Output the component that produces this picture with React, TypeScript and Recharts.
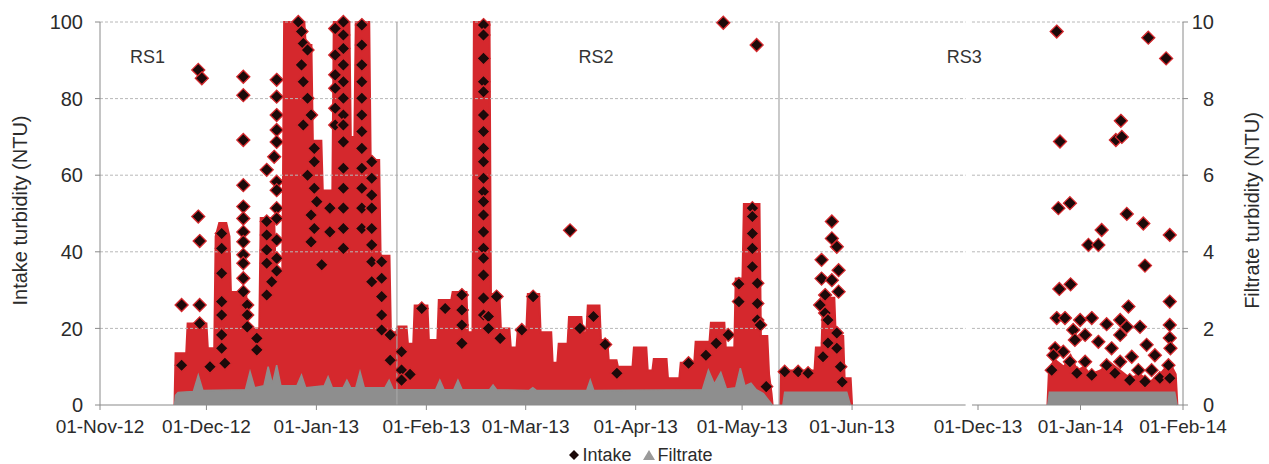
import { ComposedChart, Area, Scatter, XAxis, YAxis, ReferenceLine, ReferenceDot } from 'recharts';

if (typeof document !== 'undefined') document.body.style.margin = '0';

// x positions are days since 01-Nov-12; the second block (after the axis break) is days since 01-Dec-13
const SEG2_START = 247.5;
const SEG2_RATE = 0.932;
const seg2 = (d: number) => SEG2_START + d * SEG2_RATE;
const X_MAX = seg2(62);

const tickDays = [0, 30, 61, 92, 120, 151, 181, 212];
const tickDays2 = [0, 31, 62];
const xTickLabels = [
  '01-Nov-12', '01-Dec-12', '01-Jan-13', '01-Feb-13', '01-Mar-13', '01-Apr-13', '01-May-13', '01-Jun-13',
  '01-Dec-13', '01-Jan-14', '01-Feb-14',
];
const intakeTicks = [0, 20, 40, 60, 80, 100];
const filtrateTicks = [0, 2, 4, 6, 8, 10];

const rsBoundaries = [83.7, 191.4];
const rsLabels = [
  { name: 'RS1', x: 13.4 },
  { name: 'RS2', x: 139.8 },
  { name: 'RS3', x: 243.6 },
];

// upper edge of the dense intake cloud (day, NTU)
const intakeCloudRS12 = [
  [21.0, 0], [21.3, 13.5], [24.3, 13.5], [24.7, 21.3], [30.0, 21.3], [30.4, 14.8], [32.2, 14.8],
  [32.6, 44], [33.6, 47.5], [35.6, 47.5], [36.5, 44], [36.9, 29.5], [41.2, 29.5], [41.6, 20], [44.9, 20],
  [45.3, 48.8], [49.1, 48.8], [49.5, 35], [51.4, 35], [51.9, 100], [57.6, 100], [58.0, 94], [59.6, 94],
  [60.0, 69], [62.4, 69], [62.8, 56], [65.5, 56], [65.9, 100], [70.3, 100], [70.7, 70], [71.7, 70],
  [72.1, 100], [75.9, 100], [76.3, 64], [78.7, 64], [79.1, 39], [81.6, 39], [82.0, 19], [83.5, 19],
  [83.9, 20.5], [86.4, 20.5], [86.8, 16], [88.3, 16], [88.7, 26], [92.3, 26], [92.7, 17], [95.1, 17],
  [95.5, 27.4], [99.0, 27.4], [99.4, 29.5], [103.3, 29.5], [103.7, 19], [105.0, 19], [105.4, 100],
  [109.8, 100], [110.2, 29], [112.6, 29], [113.0, 20], [115.4, 20], [115.8, 15], [117.4, 15], [117.8, 20],
  [120.2, 20], [120.6, 29], [123.8, 29], [124.2, 19], [127.2, 19], [127.6, 11], [128.9, 11], [129.3, 16],
  [131.8, 16], [132.2, 23], [135.7, 23], [136.1, 19], [137.1, 19], [137.5, 26], [140.8, 26], [141.2, 17],
  [143.0, 17], [143.4, 11.7], [145.6, 11.7], [146.0, 10], [150.1, 10], [150.5, 15], [154.0, 15],
  [154.4, 9], [155.7, 9], [156.1, 12], [159.7, 12], [160.1, 7], [163.3, 7], [163.7, 11], [167.5, 11],
  [167.9, 16.5], [171.8, 16.5], [172.2, 21.5], [176.0, 21.5], [176.4, 15], [178.8, 15], [179.2, 33],
  [181.1, 33], [181.5, 52.5], [185.9, 52.5], [186.3, 18], [188.1, 18], [188.6, 8], [189.3, 3], [189.6, 0],
];
const intakeCloudRS3a = [
  [191.7, 0], [192.0, 9], [201.4, 9], [201.8, 15], [203.4, 15], [203.8, 28], [207.0, 28], [207.4, 18],
  [209.5, 18], [209.9, 7], [211.6, 7], [212.0, 0],
];
const intakeCloudRS3b = [
  [21.0, 0], [21.4, 8], [23, 12], [26, 10], [28, 13], [30, 9], [32, 10], [34, 8], [37, 9], [40, 11],
  [43, 9], [46, 7], [49, 8], [52, 6], [55, 8], [58, 11], [59.8, 8], [60.3, 0],
];

// individual intake readings that stand out (day, [NTU...])
const intakePointsRS12: [number, number[]][] = [
  [23.0, [26.1, 10.4]], [27.7, [87.5, 49.2]], [28.7, [85.3]], [28.1, [42.8, 26.1, 21.3]], [31.0, [10]],
  [34.3, [44.8, 40.9, 34.4, 27, 23.5, 18.3, 14.8]], [35.2, [10.9]],
  [40.4, [85.7, 80.9, 69.2, 57.4, 51.8, 48.7, 45.2, 42.6, 39.2, 37, 33.1, 29.6]],
  [41.5, [26.1, 23.5, 20.4]], [44.2, [17.4, 14.4]], [47.0, [61.4, 47.9, 44.4, 40.5, 37, 28.7]],
  [48.4, [32.2]], [49.1, [64.8]],
  [49.8, [84.9, 80.5, 75.7, 71.8, 68.7, 58.3, 56.1, 51.4, 48.7, 43.1, 38.3, 35]],
  [55.9, [100]], [56.8, [97.5, 88.8]], [57.3, [94.4, 84.4, 73.1]], [58.5, [92.7, 80.1, 60]],
  [59.5, [75.7, 49.6, 42.6]], [60.4, [67, 63.5, 56.6, 46.1]], [61.1, [53.1]], [62.5, [36.6]],
  [64.8, [51.4, 45.2]], [66.3, [98.3, 91.4, 86.2, 82.7, 77.5, 73.1]],
  [68.6, [100, 96.6, 93.1, 88.8, 84.4, 80.1, 75.7, 73.1, 68.7, 61.8, 56.6, 51.4, 46.1, 40.9]],
  [73.8, [99.2, 94, 88.8, 84.4, 80.1, 75.7, 71.4, 67, 61.8, 56.6, 51.4, 46.1]],
  [76.6, [63.5, 59.2, 54.8, 51.4, 46.1, 41.8, 37.4, 32.2]], [79.4, [37.4, 33.1, 28.3, 23.5, 19.6]],
  [81.8, [18.3, 11.7]], [85.0, [13.9, 9.1, 6.5]], [87.4, [8]], [90.7, [25.2]], [97.3, [25.2]],
  [102.0, [28.7, 24.8, 20.9, 16.1]],
  [108.1, [99.2, 96.6, 90.5, 84.4, 81.8, 75.7, 71.4, 67, 63.5, 59.2, 55.7, 53.1, 49.6, 45.2, 40.9, 38.3, 33.9, 27.9, 23.5]],
  [109.5, [23.1, 20]], [111.8, [28.3]], [112.8, [17.4]], [118.9, [19.6]], [122.1, [28.3]], [132.5, [45.6]],
  [135.3, [20]], [139.1, [23.1]], [142.4, [15.8]], [145.7, [8.3]], [165.9, [10.9]], [170.8, [13]],
  [173.7, [16.1]], [175.7, [99.8]], [177.1, [18.3]], [180.1, [31.6, 27]], [183.9, [51.4, 49.2, 44.8, 40.9, 36.1]],
  [185.1, [94]], [185.3, [31.8, 26.5, 22.2]], [186.1, [20.9]], [187.8, [4.8]],
  [193.0, [8.7]], [196.8, [8.7]], [199.6, [8.3]], [203.0, [26.1]], [203.4, [37.9, 33]], [203.8, [12.6]],
  [204.4, [28.7, 24]], [205.2, [22.2, 16.2]], [206.3, [47.9, 43.5, 32.6]], [207.7, [41.3, 18.8, 14.8]],
  [208.2, [35.2, 29.6]], [208.7, [10]], [209.2, [6]],
];
// days since 01-Dec-13
const intakePointsRS3b = [
  [23.8, 97.5], [51.5, 95.9], [56.9, 90.5], [43.2, 74.2], [41.7, 69.2], [43.5, 70], [24.8, 68.8],
  [24.3, 51.4], [27.8, 52.7], [45, 49.9], [50, 47.4], [58, 44.4], [37.4, 45.7], [33.4, 41.8], [36.4, 41.8],
  [50.5, 36.4], [24.6, 30.3], [28, 31.5], [58, 27], [45.5, 25.7], [23.8, 22.7], [26.3, 22.7], [30.9, 22.2],
  [34.4, 22.7], [38.9, 21.1], [43, 22.2], [45, 20.4], [49, 20.4], [58, 20.9], [28.8, 19.6], [32.4, 18.3],
  [43, 18.3], [58, 17.5], [29.3, 17], [36.4, 16.5], [51, 15.7], [23.3, 14.8], [40.4, 14.8], [46.5, 12.6],
  [53.5, 13], [58.2, 14.8], [25.8, 13.9], [32.4, 11.3], [38.9, 10.4], [43, 11.3], [27.8, 11.3], [57.6, 10.4],
  [22.8, 13], [34.4, 7.8], [48.5, 9.1], [52.5, 9.1], [55, 7], [22.3, 9.1], [29.9, 8.3], [41.4, 8.3],
  [45.9, 6.5], [50.5, 6.1], [58, 7],
];

// filtrate cloud upper edge (day, NTU)
const filtrateRS12 = [
  [21.0, 0], [21.3, 0.25], [22, 0.33], [26.3, 0.35], [27.7, 0.78], [29.0, 0.38], [41, 0.4], [42.3, 0.87],
  [43.6, 0.45], [46.2, 0.5], [47.4, 1.0], [48.6, 0.55], [49.8, 1.04], [51, 0.5], [55.5, 0.5], [56.8, 0.78],
  [58.0, 0.45], [63.2, 0.5], [64.3, 0.74], [65.5, 0.45], [68.5, 0.45], [69.6, 0.65], [70.7, 0.45],
  [72.1, 0.45], [73.3, 0.87], [74.5, 0.45], [80.3, 0.45], [81.5, 0.65], [82.7, 0.4], [94.6, 0.4],
  [95.8, 0.65], [97, 0.4], [99.7, 0.4], [100.9, 0.65], [102.1, 0.4], [109.8, 0.4], [110.8, 0.52],
  [111.8, 0.4], [121, 0.38], [122, 0.45], [123, 0.38], [137.2, 0.38], [138.2, 0.65], [139.2, 0.38],
  [169.8, 0.4], [171.5, 0.91], [173.2, 0.55], [175, 0.85], [176.6, 0.42], [179.2, 0.45], [180.5, 0.96],
  [181.8, 0.5], [183.5, 0.57], [185, 0.4], [187, 0.3], [189.5, 0],
];
const filtrateRS3a = [[192.5, 0], [193, 0.33], [210.5, 0.33], [211.5, 0]];
const filtrateRS3b = [[21.1, 0], [21.6, 0.33], [59.5, 0.33], [60.2, 0]];

const RED = '#d5282d';
const GREY = '#8e8e8e';
const AXIS = '#8a8a8a';
const TEXT = '#2b2b2b';

const cloud = (rows: number[][], toX = (d: number) => d) => rows.map(([d, v]) => ({ x: toX(d), v }));
const intakeScatter = [
  ...intakePointsRS12.flatMap(([d, vals]) => vals.map((v) => ({ x: d, v }))),
  ...intakePointsRS3b.map(([d, v]) => ({ x: seg2(d), v })),
];
const xTicks = [...tickDays, ...tickDays2.map(seg2)];
const BREAK = [244.0, 245.8];

const Diamond = (props: any) => {
  const { cx, cy } = props;
  if (cx == null || cy == null) return null;
  const s = 6.5;
  return (
    <path
      d={`M${cx},${cy - s}L${cx + s},${cy}L${cx},${cy + s}L${cx - s},${cy}Z`}
      fill="#1c0a0a"
      stroke={RED}
      strokeWidth={1.3}
    />
  );
};

const RightTick = (props: any) => {
  const { x, y, payload } = props;
  return (
    <text x={x + 24} y={y} dy="0.355em" textAnchor="end" fontSize={20} fill={TEXT}>
      {payload.value}
    </text>
  );
};

const AxisTitle = ({ viewBox, title, posX }: any) => {
  const cy = viewBox.y + viewBox.height / 2 - 3;
  return (
    <text x={posX} y={cy} transform={`rotate(-90, ${posX}, ${cy})`} textAnchor="middle" dominantBaseline="central" fontSize={20} fill={TEXT}>
      {title}
    </text>
  );
};

export default function App() {
  return (
    <div style={{ position: 'relative', width: 1269, height: 464, fontFamily: '"Liberation Sans", Arial, sans-serif', background: '#fff' }}>
      <ComposedChart width={1269} height={464} margin={{ top: 22, right: 0, bottom: 19, left: 0 }}>
        <XAxis
          type="number"
          dataKey="x"
          domain={[0, X_MAX]}
          allowDataOverflow
          ticks={xTicks}
          interval={0}
          tickFormatter={(_v: number, i: number) => xTickLabels[i]}
          axisLine={false}
          tickLine={{ stroke: AXIS }}
          tickSize={5}
          tickMargin={10}
          height={40}
          tick={{ fontSize: 19, fill: TEXT }}
        />
        <YAxis
          yAxisId="left"
          dataKey="v"
          domain={[0, 100]}
          ticks={intakeTicks}
          width={100}
          axisLine={{ stroke: AXIS }}
          tickLine={{ stroke: AXIS }}
          tickSize={5}
          tickMargin={12}
          tick={{ fontSize: 20, fill: TEXT }}
          label={<AxisTitle title="Intake turbidity (NTU)" posX={20} />}
        />
        <YAxis
          yAxisId="right"
          orientation="right"
          domain={[0, 10]}
          ticks={filtrateTicks}
          width={86}
          axisLine={{ stroke: AXIS }}
          tickLine={{ stroke: AXIS }}
          tickSize={5}
          tickMargin={2}
          tick={<RightTick />}
          label={<AxisTitle title="Filtrate turbidity (NTU)" posX={1252} />}
        />

        {intakeTicks.slice(1).map((t) => (
          <ReferenceLine key={`g1-${t}`} yAxisId="left" segment={[{ x: 0, y: t }, { x: BREAK[0], y: t }]} stroke="#b8b8b8" strokeDasharray="3 2" />
        ))}
        {intakeTicks.slice(1).map((t) => (
          <ReferenceLine key={`g2-${t}`} yAxisId="left" segment={[{ x: BREAK[1], y: t }, { x: X_MAX, y: t }]} stroke="#b8b8b8" strokeDasharray="3 2" />
        ))}
        {rsBoundaries.map((b) => (
          <ReferenceLine key={`rs-${b}`} yAxisId="left" x={b} stroke="#a6a6a6" strokeWidth={1.2} />
        ))}

        <Area data={cloud(intakeCloudRS12)} dataKey="v" yAxisId="left" type="linear" fill={RED} fillOpacity={1} stroke={RED} strokeWidth={2} dot={false} activeDot={false} isAnimationActive={false} />
        <Area data={cloud(intakeCloudRS3a)} dataKey="v" yAxisId="left" type="linear" fill={RED} fillOpacity={1} stroke={RED} strokeWidth={2} dot={false} activeDot={false} isAnimationActive={false} />
        <Area data={cloud(intakeCloudRS3b, seg2)} dataKey="v" yAxisId="left" type="linear" fill={RED} fillOpacity={1} stroke={RED} strokeWidth={2} dot={false} activeDot={false} isAnimationActive={false} />

        <Scatter data={intakeScatter} dataKey="v" yAxisId="left" shape={<Diamond />} isAnimationActive={false} />

        <Area data={cloud(filtrateRS12)} dataKey="v" yAxisId="right" type="linear" fill={GREY} fillOpacity={1} stroke={GREY} strokeWidth={1.5} dot={false} activeDot={false} isAnimationActive={false} />
        <Area data={cloud(filtrateRS3a)} dataKey="v" yAxisId="right" type="linear" fill={GREY} fillOpacity={1} stroke={GREY} strokeWidth={1.5} dot={false} activeDot={false} isAnimationActive={false} />
        <Area data={cloud(filtrateRS3b, seg2)} dataKey="v" yAxisId="right" type="linear" fill={GREY} fillOpacity={1} stroke={GREY} strokeWidth={1.5} dot={false} activeDot={false} isAnimationActive={false} />

        <ReferenceLine yAxisId="left" segment={[{ x: 0, y: 0 }, { x: BREAK[0], y: 0 }]} stroke={AXIS} strokeWidth={1.2} />
        <ReferenceLine yAxisId="left" segment={[{ x: BREAK[1], y: 0 }, { x: X_MAX, y: 0 }]} stroke={AXIS} strokeWidth={1.2} />

        {rsLabels.map((r) => (
          <ReferenceDot
            key={r.name}
            yAxisId="left"
            x={r.x}
            y={90.9}
            r={0}
            fill="none"
            stroke="none"
            label={{ value: r.name, position: 'center', fontSize: 18, fill: '#333' }}
          />
        ))}
      </ComposedChart>

      <div
        style={{
          position: 'absolute',
          left: 0,
          width: 1269,
          top: 445,
          display: 'flex',
          justifyContent: 'center',
          alignItems: 'center',
          fontSize: 18,
          lineHeight: '20px',
          color: TEXT,
          paddingLeft: 6,
        }}
      >
        <svg width={12} height={12} style={{ marginRight: 2 }}>
          <path d="M6,1L11,6L6,11L1,6Z" fill="#1c0a0a" />
        </svg>
        <span>Intake</span>
        <svg width={14} height={12} style={{ marginLeft: 10, marginRight: 2 }}>
          <path d="M7,1L13,11L1,11Z" fill="#9a9a9a" />
        </svg>
        <span>Filtrate</span>
      </div>
    </div>
  );
}
